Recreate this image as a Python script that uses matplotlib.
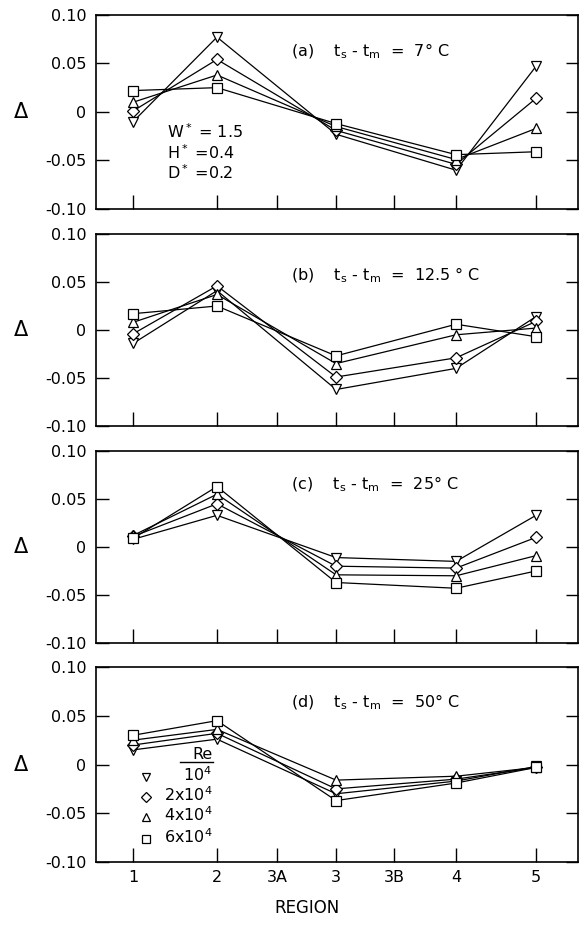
import matplotlib
matplotlib.use("Agg")
import matplotlib.pyplot as plt

plt.rcParams['font.family'] = ['DejaVu Sans']

# Regions along the x axis (tick positions are uneven in the original)
REGIONS = ["1", "2", "3A", "3", "3B", "4", "5"]
REGION_POS = [7.7, 25.1, 37.6, 49.8, 61.8, 74.7, 91.3]
DATA_REGIONS = ["1", "2", "3", "4", "5"]

RE_LABELS = ["10$^4$", "2x10$^4$", "4x10$^4$", "6x10$^4$"]
MARKERS = ["v", "D", "^", "s"]

# (a) ts - tm = 7 C
a_re1 = [-0.010, 0.077, -0.023, -0.060, 0.047]
a_re2 = [0.001, 0.054, -0.019, -0.054, 0.014]
a_re4 = [0.010, 0.038, -0.015, -0.049, -0.017]
a_re6 = [0.022, 0.025, -0.012, -0.044, -0.041]

# (b) ts - tm = 12.5 C
b_re1 = [-0.014, 0.041, -0.062, -0.040, 0.014]
b_re2 = [-0.004, 0.046, -0.049, -0.029, 0.009]
b_re4 = [0.008, 0.037, -0.035, -0.005, 0.002]
b_re6 = [0.017, 0.025, -0.027, 0.006, -0.007]

# (c) ts - tm = 25 C
c_re1 = [0.008, 0.033, -0.011, -0.015, 0.033]
c_re2 = [0.011, 0.045, -0.020, -0.022, 0.010]
c_re4 = [0.012, 0.055, -0.029, -0.030, -0.009]
c_re6 = [0.009, 0.063, -0.037, -0.043, -0.025]

# (d) ts - tm = 50 C
d_re1 = [0.015, 0.026, -0.030, -0.017, -0.002]
d_re2 = [0.020, 0.032, -0.025, -0.015, -0.003]
d_re4 = [0.025, 0.036, -0.016, -0.012, -0.003]
d_re6 = [0.030, 0.045, -0.037, -0.019, -0.003]

PANELS = [
    [a_re1, a_re2, a_re4, a_re6],
    [b_re1, b_re2, b_re4, b_re6],
    [c_re1, c_re2, c_re4, c_re6],
    [d_re1, d_re2, d_re4, d_re6],
]
TITLES = [
    r"(a)    $\mathregular{t_s}$ - $\mathregular{t_m}$  =  7° C",
    r"(b)    $\mathregular{t_s}$ - $\mathregular{t_m}$  =  12.5 ° C",
    r"(c)    $\mathregular{t_s}$ - $\mathregular{t_m}$  =  25° C",
    r"(d)    $\mathregular{t_s}$ - $\mathregular{t_m}$  =  50° C",
]
TITLE_Y = [0.062, 0.057, 0.065, 0.064]

YTICKS = [0.10, 0.05, 0, -0.05, -0.10]
YTICKLABELS = ["0.10", "0.05", "0", "-0.05", "-0.10"]

# axes boxes in figure fractions [left, bottom, width, height]
BOXES = [
    [0.1644, 0.774, 0.8253, 0.210],
    [0.1644, 0.5395, 0.8253, 0.2075],
    [0.1644, 0.3049, 0.8253, 0.2075],
    [0.1644, 0.0681, 0.8253, 0.2108],
]

fig = plt.figure(figsize=(5.84, 9.25), dpi=100)

xs = [REGION_POS[REGIONS.index(r)] for r in DATA_REGIONS]
marker_size = {"v": 7, "D": 5.8, "^": 7, "s": 7}

axes = []
for i, box in enumerate(BOXES):
    ax = fig.add_axes(box)
    axes.append(ax)
    for series, m in zip(PANELS[i], MARKERS):
        ax.plot(xs, series, color="black", lw=0.9, zorder=2)
        ax.plot(xs, series, linestyle="none", marker=m, ms=marker_size[m],
                mfc="white", mec="black", mew=0.9, zorder=3)

    ax.set_xlim(0, 100)
    ax.set_ylim(-0.10, 0.10)
    ax.set_xticks(REGION_POS)
    ax.set_yticks(YTICKS)
    ax.set_yticklabels(YTICKLABELS)
    ax.tick_params(axis="y", direction="in", length=9, width=1.0,
                   labelsize=11.5, pad=7, right=True)
    ax.tick_params(axis="x", direction="in", length=10, width=1.0,
                   labelsize=11.5, pad=6, top=False)
    if i < 3:
        ax.set_xticklabels([])
    else:
        ax.set_xticklabels(REGIONS)
    for s in ax.spines.values():
        s.set_linewidth(1.2)

    ax.text(40.5, TITLE_Y[i], TITLES[i], fontsize=11.5, va="center", ha="left")
    ax.text(-0.155, 0.5, "Δ", transform=ax.transAxes, fontsize=15,
            ha="center", va="center")

# geometry note in panel (a)
for txt, yy in zip([r"W$^*$ = 1.5", r"H$^*$ =0.4", r"D$^*$ =0.2"],
                   [0.397, 0.289, 0.186]):
    axes[0].text(0.147, yy, txt, transform=axes[0].transAxes, fontsize=11.5,
                 va="center", ha="left")

# Re legend in panel (d)
axd = axes[3]
axd.text(0.241, 0.549, "Re", transform=axd.transAxes, fontsize=11.5,
         ha="right", va="center")
axd.plot([0.175, 0.243], [0.515, 0.515], transform=axd.transAxes,
         color="black", lw=1.0)
leg_y = [0.436, 0.333, 0.231, 0.118]
for lab, m, yy in zip(RE_LABELS, MARKERS, leg_y):
    axd.plot([0.104], [yy], transform=axd.transAxes, linestyle="none",
             marker=m, ms=marker_size[m] - 1.0, mfc="white", mec="black",
             mew=0.9)
    axd.text(0.241, yy + 0.01, lab, transform=axd.transAxes, fontsize=11.5,
             ha="right", va="center")

fig.text(0.526, 0.0086, "REGION", fontsize=12, ha="center", va="bottom")

fig.savefig("out.png", dpi=100)
